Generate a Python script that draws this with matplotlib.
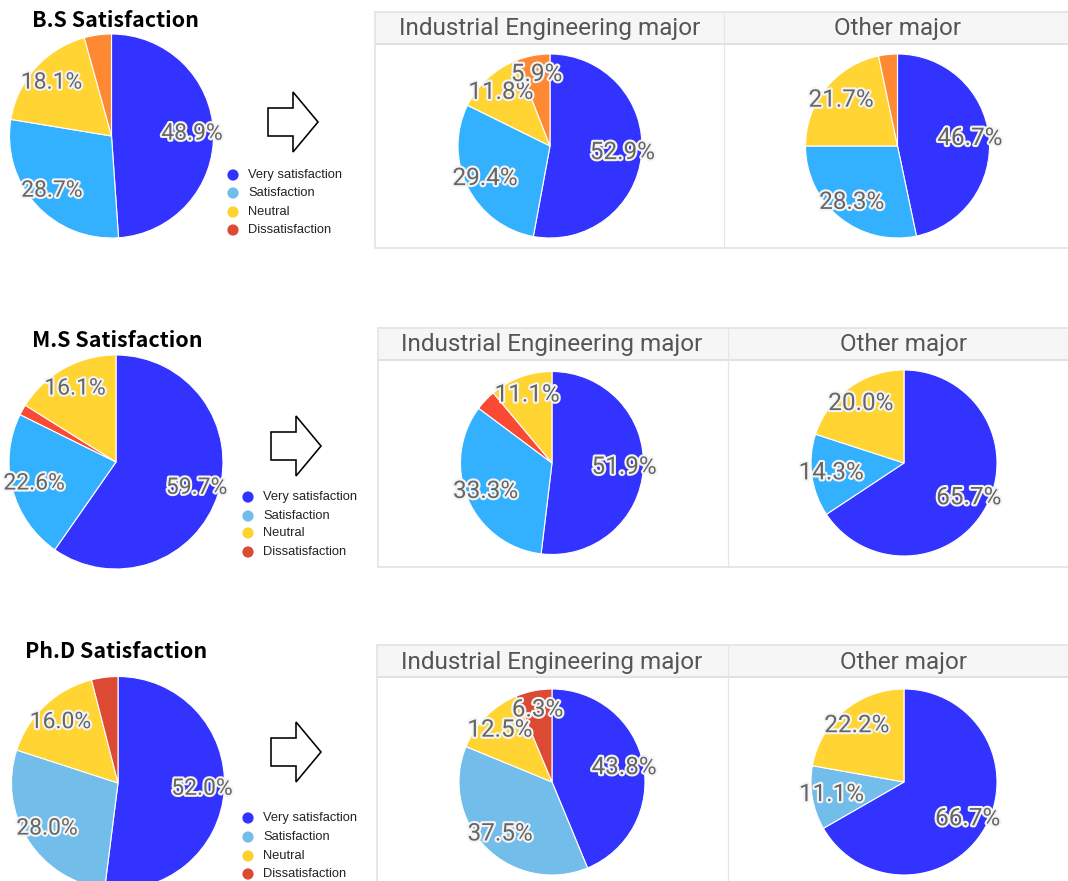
import numpy as np
import matplotlib
matplotlib.use('Agg')
import matplotlib.pyplot as plt
import matplotlib.patheffects as pe
from matplotlib.patches import Polygon, Rectangle, Circle

W, H = 1068, 881

categories = ['Very satisfaction', 'Satisfaction', 'Neutral', 'Dissatisfaction']
levels = ['B.S', 'M.S', 'Ph.D']
majors = ['Industrial Engineering major', 'Other major']

# shares (%) in category order: very, satisfaction, neutral, dissatisfaction
bs_all = [48.9, 28.7, 18.1, 4.3]
bs_ie = [52.9, 29.4, 11.8, 5.9]
bs_other = [46.7, 28.3, 21.7, 3.3]
ms_all = [59.7, 22.6, 16.1, 1.6]
ms_ie = [51.9, 33.3, 11.1, 3.7]
ms_other = [65.7, 14.3, 20.0, 0.0]
phd_all = [52.0, 28.0, 16.0, 4.0]
phd_ie = [43.8, 37.5, 12.5, 6.3]
phd_other = [66.7, 11.1, 22.2, 0.0]

rows = [(bs_all, bs_ie, bs_other), (ms_all, ms_ie, ms_other), (phd_all, phd_ie, phd_other)]

# slice order clockwise from 12 o'clock (M.S charts put dissatisfaction before neutral)
orders = [[0, 1, 2, 3], [0, 1, 3, 2], [0, 1, 2, 3]]
colors = [['#3333ff', '#33b1ff', '#ffd433', '#ff8833'],
          ['#3333ff', '#33b1ff', '#ffd433', '#fa4a33'],
          ['#3333ff', '#72bdea', '#ffd433', '#dc4a34']]
legend_colors = ['#3333ff', '#71bdea', '#ffd22e', '#dc4a34']

# layout in pixels (x, y from top-left)
left_pies = [(111.5, 136, 102), (116, 462, 107), (118, 783, 106.5)]
ie_pies = [(550, 146, 92), (552, 463, 91.5), (552, 782, 93)]
other_pies = [(897.5, 146, 92), (904, 463, 93), (904, 782, 93)]
title_pos = [(32, 27), (32, 347), (25, 658)]
box_top = [12, 328, 645]
box_left = [375, 378, 377]
box_div = [724, 728, 728]
box_bottom = [248, 567, 900]
arrow_x = [268, 271, 271]
arrow_y = [122, 446, 752]
legend_x = [233, 248, 248]
legend_y = [[175, 193, 212, 230], [497, 516, 533, 552], [818, 837, 856, 874]]

fig = plt.figure(figsize=(W / 100, H / 100), dpi=100)
fig.patch.set_facecolor('white')

bg = fig.add_axes([0, 0, 1, 1])
bg.set_xlim(0, W)
bg.set_ylim(H, 0)
bg.axis('off')

PX = 0.72  # one pixel in points
PAD = 1.03


def draw_pie(spec, vals, order, cols, fsize):
    cx, cy, r = spec
    s = r * PAD
    ax = fig.add_axes([(cx - s) / W, 1 - (cy + s) / H, 2 * s / W, 2 * s / H])
    v = [vals[i] for i in order if vals[i] > 0]
    c = [cols[i] for i in order if vals[i] > 0]
    _, _, autotexts = ax.pie(
        v, colors=c, startangle=90, counterclock=False, radius=1,
        autopct=lambda p: f'{p:.1f}%' if p >= 5 else '', pctdistance=0.79,
        wedgeprops=dict(edgecolor='white', linewidth=0.8),
        textprops=dict(family='Roboto', fontsize=fsize, color='#666666'))
    for t in autotexts:
        t.set_path_effects([pe.Stroke(linewidth=3, foreground='#f4f4f4'), pe.Normal()])
    # pie() resets the limits, so fix them afterwards
    ax.set_xlim(-PAD, PAD)
    ax.set_ylim(-PAD, PAD)
    ax.set_aspect('equal')
    ax.axis('off')


for k in range(3):
    all_v, ie_v, oth_v = rows[k]

    # title
    tx, ty = title_pos[k]
    bg.text(tx, ty, f'{levels[k]} Satisfaction', fontsize=15.4, fontweight='bold',
            family=['Noto Sans CJK KR', 'DejaVu Sans'], color='black', va='baseline', ha='left')

    # arrow
    ax0 = arrow_x[k]
    ay = arrow_y[k]
    pts = [(ax0, ay - 14), (ax0 + 25, ay - 14), (ax0 + 25, ay - 30), (ax0 + 50, ay),
           (ax0 + 25, ay + 30), (ax0 + 25, ay + 14), (ax0, ay + 14)]
    bg.add_patch(Polygon(pts, closed=True, facecolor='white', edgecolor='black', lw=1.6 * PX))

    # legend
    for j, cat in enumerate(categories):
        yy = legend_y[k][j]
        bg.add_patch(Circle((legend_x[k], yy), 5.6, facecolor=legend_colors[j], edgecolor='none'))
        bg.text(legend_x[k] + 15, yy, cat, fontsize=9.3, family='Liberation Sans',
                color='#222222', va='center', ha='left')

    # panel boxes
    top, left, div, bottom = box_top[k], box_left[k], box_div[k], box_bottom[k]
    hb = top + 32
    bg.add_patch(Rectangle((left, top), W + 20 - left, hb - top, facecolor='#f6f6f6',
                           edgecolor='#e0e0e0', lw=1.5 * PX))
    bg.add_patch(Rectangle((left, hb), W + 20 - left, bottom - hb, facecolor='none',
                           edgecolor='#e0e0e0', lw=1.5 * PX))
    bg.plot([div, div], [top, bottom], color='#e6e6e6', lw=1.2 * PX)
    bg.text(ie_pies[k][0], top + 23.5, majors[0], fontsize=17.5, family='Roboto',
            color='#555555', ha='center', va='baseline')
    bg.text(other_pies[k][0], top + 23.5, majors[1], fontsize=17.5, family='Roboto',
            color='#555555', ha='center', va='baseline')

    draw_pie(left_pies[k], all_v, orders[k], colors[k], 16.5)
    draw_pie(ie_pies[k], ie_v, orders[k], colors[k], 17.5)
    draw_pie(other_pies[k], oth_v, orders[k], colors[k], 17.5)

fig.savefig('out.png', dpi=100, facecolor='white')
